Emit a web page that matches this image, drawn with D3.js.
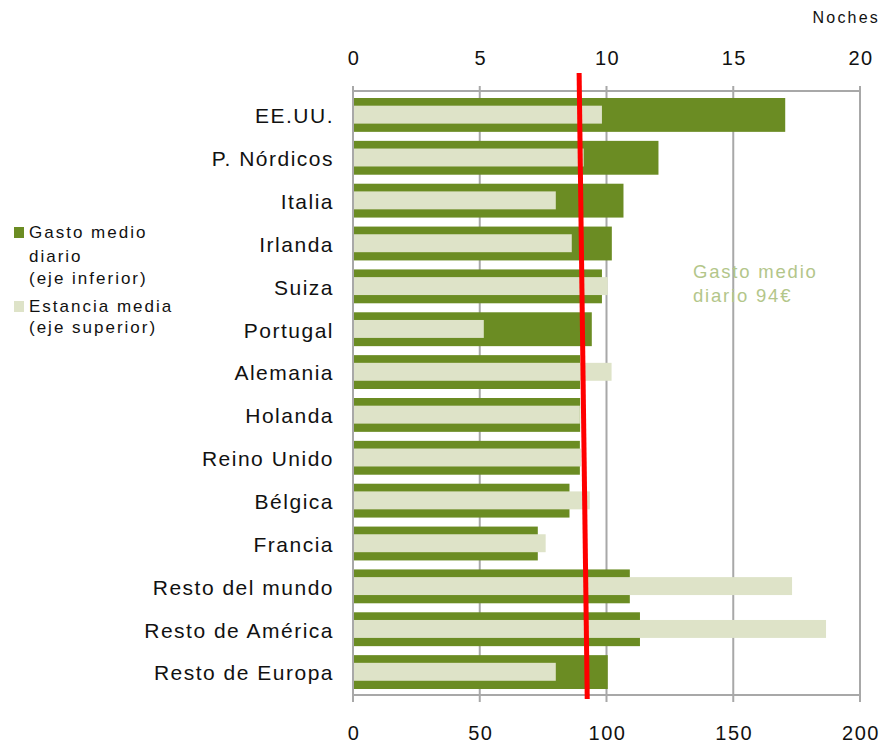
<!DOCTYPE html>
<html><head><meta charset="utf-8">
<script src="https://cdn.jsdelivr.net/npm/d3@7"></script>
<style>body{margin:0;background:#fff;} text{font-family:"Liberation Sans",Arial,sans-serif;}</style>
</head><body>
<svg id="chart" width="893" height="748"></svg>
<script>
const categories = ["EE.UU.","P. Nórdicos","Italia","Irlanda","Suiza","Portugal","Alemania","Holanda","Reino Unido","Bélgica","Francia","Resto del mundo","Resto de América","Resto de Europa"];
const gastoMedio = [170.5,120.5,106.7,102.1,98.2,94.2,89.6,89.6,89.5,85.4,72.9,109.2,113.2,100.5];
const estanciaMedia = [9.82,9.1,8.0,8.63,10.05,5.16,10.2,8.95,8.99,9.34,7.6,17.32,18.66,8.0];
const gastoTicks = [0,50,100,150,200];
const nochesTicks = [0,5,10,15,20];
const refLine = [89.2,92.4]; // gasto medio line (top, bottom)

const svg = d3.select("#chart");
const L = 353, R = 860, T = 91, B = 695;
const xB = d3.scaleLinear().domain([0,200]).range([L,R]);
const xT = d3.scaleLinear().domain([0,20]).range([L,R]);
const y = d3.scaleBand().domain(categories).range([T+1,B]).paddingInner(0.21).paddingOuter(0.14);
const dark = "#6b8c23", light = "#dee3c8", grid = "#a8a8a8";

// gridlines
svg.append("g").selectAll("line").data(gastoTicks).join("line")
  .attr("x1",d=>xB(d)).attr("x2",d=>xB(d)).attr("y1",T-5).attr("y2",B+7)
  .attr("stroke",grid).attr("stroke-width",2);
// axis lines
svg.append("line").attr("x1",L).attr("x2",R+1).attr("y1",T).attr("y2",T).attr("stroke",grid).attr("stroke-width",2);
svg.append("line").attr("x1",L).attr("x2",R+1).attr("y1",B).attr("y2",B).attr("stroke",grid).attr("stroke-width",2);

// bars
svg.append("g").selectAll("rect").data(categories).join("rect")
  .attr("x",xB(0)+1).attr("y",d=>y(d)).attr("height",y.bandwidth())
  .attr("width",(d,i)=>xB(gastoMedio[i])-xB(0)-1).attr("fill",dark);
svg.append("g").selectAll("rect").data(categories).join("rect")
  .attr("x",xT(0)+1).attr("y",d=>y(d)+y.bandwidth()*0.227).attr("height",y.bandwidth()*0.53)
  .attr("width",(d,i)=>xT(estanciaMedia[i])-xT(0)-1).attr("fill",light);

// category labels
svg.append("g").selectAll("text").data(categories).join("text")
  .attr("x",334).attr("y",d=>y(d)+y.bandwidth()/2+1).attr("dy","0.35em")
  .attr("text-anchor","end").attr("font-size",21).attr("letter-spacing",1.5).attr("fill","#111")
  .text(d=>d);

// tick labels
svg.append("g").selectAll("text").data(gastoTicks).join("text")
  .attr("x",d=>xB(d)+1).attr("y",733).attr("dy","0.35em").attr("text-anchor","middle")
  .attr("font-size",20).attr("letter-spacing",1.5).attr("fill","#111").text(d=>d);
svg.append("g").selectAll("text").data(nochesTicks).join("text")
  .attr("x",d=>xT(d)+1).attr("y",58).attr("dy","0.35em").attr("text-anchor","middle")
  .attr("font-size",20).attr("letter-spacing",1.5).attr("fill","#111").text(d=>d);
svg.append("text").attr("x",880).attr("y",17).attr("dy","0.35em").attr("text-anchor","end")
  .attr("font-size",16).attr("letter-spacing",2.2).attr("fill","#111").text("Noches");

// reference line
svg.append("line").attr("x1",xB(refLine[0])).attr("y1",73).attr("x2",xB(refLine[1])).attr("y2",699)
  .attr("stroke","#ff0000").attr("stroke-width",5);

// annotation
const ann = svg.append("text").attr("font-size",18.5).attr("fill","#b3c68a").attr("letter-spacing",1.8);
ann.append("tspan").attr("x",693).attr("y",278).text("Gasto medio");
ann.append("tspan").attr("x",693).attr("y",302).text("diario 94€");

// legend
const lg = svg.append("g");
lg.append("rect").attr("x",14).attr("y",227).attr("width",10).attr("height",11).attr("fill",dark);
lg.append("rect").attr("x",14).attr("y",301).attr("width",10).attr("height",11).attr("fill",light);
const lt = [["Gasto medio",238],["diario",262],["(eje inferior)",284],["Estancia media",312],["(eje superior)",333]];
lg.selectAll("text").data(lt).join("text").attr("x",29).attr("y",d=>d[1])
  .attr("font-size",17).attr("letter-spacing",2.0).attr("fill","#111").text(d=>d[0]);
</script>
</body></html>
